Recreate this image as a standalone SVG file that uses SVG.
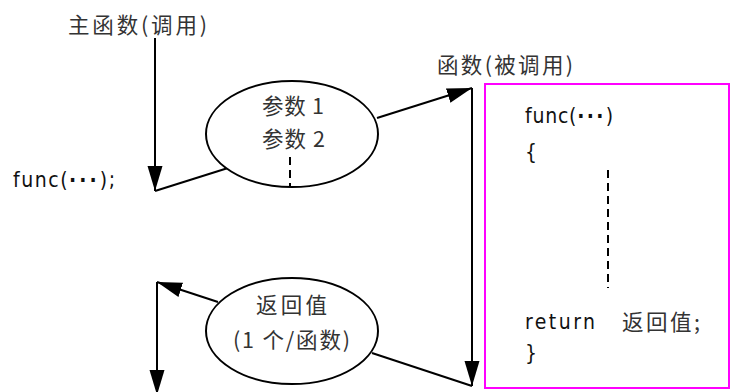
<svg xmlns="http://www.w3.org/2000/svg" width="731" height="392" viewBox="0 0 731 392">
<style>
.t{font-family:"Noto Sans CJK SC","Noto Sans",sans-serif;font-size:21.5px;fill:#333}
.c{font-family:"Liberation Sans Narrow","DejaVu Sans Condensed","Liberation Sans","Noto Sans CJK SC",sans-serif;font-stretch:condensed;font-size:21px;fill:#111}
.e{font-family:"DejaVu Sans",sans-serif;font-weight:bold;letter-spacing:1.5px}
.ln{fill:none;stroke:#000;stroke-width:2}
.el{fill:#fff;stroke:#000;stroke-width:2}
.dash{fill:none;stroke:#000;stroke-width:2;stroke-dasharray:8 5}
</style>
<defs>
<marker id="ah" markerUnits="userSpaceOnUse" markerWidth="26" markerHeight="16" refX="25" refY="7.5" orient="auto">
<path d="M0,0 L25,7.5 L0,15 z" fill="#000"/>
</marker>
</defs>
<g id="connectors">
<path class="ln" d="M155,38 L155,191" marker-end="url(#ah)"/>
<path class="ln" d="M155,191 L228,168"/>
<path class="ln" d="M377,118 L472,88" marker-end="url(#ah)"/>
<path class="ln" d="M472,88 L472,386" marker-end="url(#ah)"/>
<path class="ln" d="M472,386 L372,353"/>
<path class="ln" d="M218,302 L157,282" marker-end="url(#ah)"/>
<path class="ln" d="M157,282 L157,395" marker-end="url(#ah)"/>
</g>
<g id="caller-label">
<text class="t" x="68" y="33" textLength="139" lengthAdjust="spacing">主函数(调用)</text>
</g>
<g id="caller-call">
<text class="c" x="13" y="187" textLength="102" lengthAdjust="spacing">func(<tspan class="e">···</tspan>);</text>
</g>
<g id="params">
<ellipse class="el" cx="292" cy="134" rx="86" ry="53"/>
<text class="t" x="262" y="114" textLength="62" lengthAdjust="spacing">参数 1</text>
<text class="t" x="262" y="147" textLength="63" lengthAdjust="spacing">参数 2</text>
<path class="dash" d="M290,157 L290,187"/>
</g>
<g id="callee-label">
<text class="t" x="437" y="73" textLength="136" lengthAdjust="spacing">函数(被调用)</text>
</g>
<g id="callee">
<rect x="485" y="84" width="244" height="304" fill="none" stroke="#ff00ff" stroke-width="2"/>
<text class="c" x="525" y="123" textLength="88" lengthAdjust="spacing">func(<tspan class="e">···</tspan>)</text>
<text class="c" x="525" y="159">{</text>
<path class="dash" d="M608,170 L608,288"/>
<text class="c" x="525" y="329" textLength="70" lengthAdjust="spacing">return</text>
<text class="t" x="622" y="330" textLength="78" lengthAdjust="spacing">返回值;</text>
<text class="c" x="525" y="360">}</text>
</g>
<g id="retval">
<ellipse class="el" cx="292" cy="331" rx="86" ry="53"/>
<text class="t" x="256" y="313" textLength="71" lengthAdjust="spacing">返回值</text>
<text class="t" x="233" y="348" textLength="117" lengthAdjust="spacing">(1 个/函数)</text>
</g>
</svg>
